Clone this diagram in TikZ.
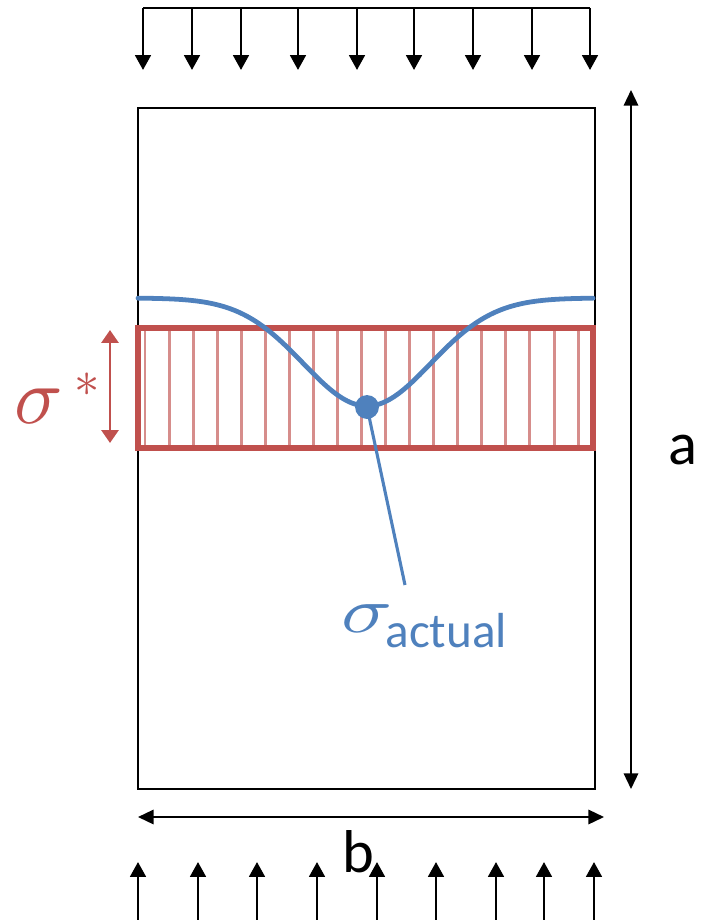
\documentclass[tikz,border=0pt]{standalone}
\usepackage{graphicx}
\usepackage{fontspec}
\setsansfont{Carlito}
\usetikzlibrary{arrows.meta}
\definecolor{stressblue}{HTML}{4F81BD}
\definecolor{stressred}{HTML}{C0504D}

\tikzset{
  load/.style={line width=1.8pt,-{Triangle[length=3.7mm,width=3.9mm]}},
  dimline/.style={line width=1.4pt,{Triangle[length=3.9mm,width=3.6mm]}-{Triangle[length=3.9mm,width=3.6mm]}},
  bigtext/.style={font=\sffamily\fontsize{43}{43}\selectfont,inner sep=0pt},
}

\begin{document}
\begin{tikzpicture}[x=0.025cm,y=-0.025cm]
    \useasboundingbox (0,0) rectangle (704,920);
    % applied load, top
    \draw[line width=1.8pt] (143,8)--(590,8);
    \foreach \x in {143,192,241,298,357,414,473,532,590}
      \draw[load] (\x,8)--(\x,70);
    % reaction, bottom
    \foreach \x in {138,198,257,317,377,436,496,544,594}
      \draw[load] (\x,925)--(\x,862);
    % plate
    \coordinate (nw) at (138,108);
    \coordinate (se) at (595,789);
    \draw[line width=1.5pt] (nw) rectangle (se);
    % average stress band
    \foreach \i in {0,...,18}
      \draw[stressred!65,line width=2.1pt] ({145+24.06*\i},331)--++(0,115);
    \draw[stressred,line width=3.8pt] (138,328) rectangle (593,448);
    % actual stress
    \draw[stressblue,line width=3.4pt,line cap=round] plot[domain=138:593,samples=90,smooth]
      (\x,{298+108*exp(-((\x-367)/90)*((\x-367)/90))});
    \node[circle,fill=stressblue,inner sep=0pt,minimum size=17pt] (dip) at (367,407) {};
    \node[anchor=base west,inner sep=0pt,text=stressblue] (actual) at (341,632)
      {\scalebox{6}[4.6]{$\sigma$}\hspace{-5pt}\sffamily\fontsize{35}{35}\selectfont\raisebox{-10.7pt}{actual}};
    \coordinate (tail) at (405,585);
    \draw[stressblue,line width=2.2pt] (dip.center)--(tail);
    % sigma star
    \coordinate (st) at (110,330);
    \coordinate (sb) at (110,443);
    \draw[stressred,line width=2pt,{Triangle[length=3.2mm,width=4.2mm]}-{Triangle[length=3.2mm,width=4.2mm]}] (st)--(sb);
    \node[anchor=base west,inner sep=0pt,text=stressred] (star) at (14,423)
      {\scalebox{5.7}{$\sigma$}\hspace{8pt}\raisebox{19pt}{\scalebox{3.6}{$\ast$}}};
    % dimensions
    \coordinate (at) at (631,90);
    \coordinate (ab) at (631,789);
    \draw[dimline] (at)--(ab);
    \node[bigtext] (alabel) at (683,450) {a};
    \coordinate (bl) at (138,817);
    \coordinate (br) at (604,817);
    \draw[dimline] (bl)--(br);
    \node[bigtext] (blabel) at (358,852) {b};
  \end{tikzpicture}
\end{document}
